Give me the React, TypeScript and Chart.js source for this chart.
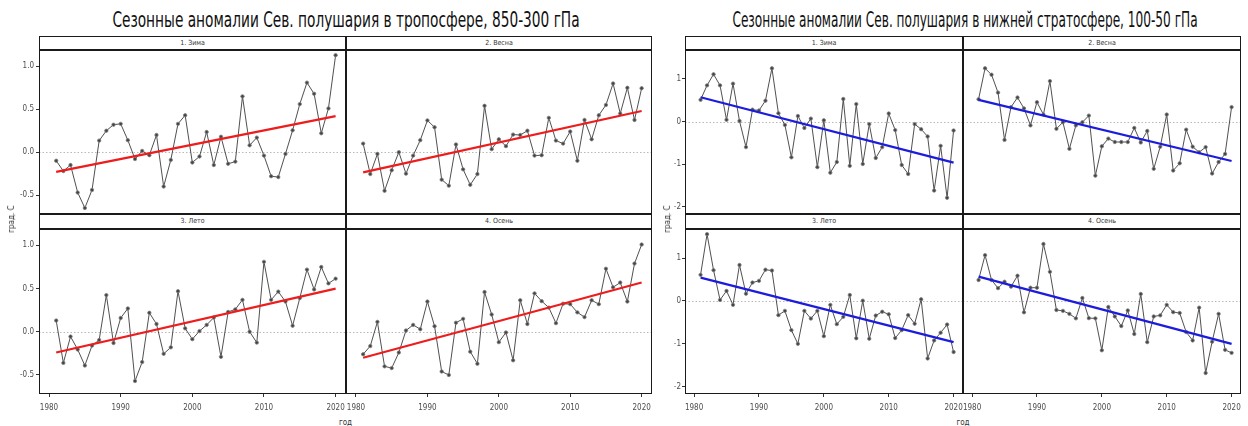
import React, { useEffect, useLayoutEffect, useRef, useState } from "react";
import { Chart, registerables } from "chart.js";
Chart.register(...registerables);

// ---------------- data ----------------
const years = [
  1981, 1982, 1983, 1984, 1985, 1986, 1987, 1988, 1989, 1990,
  1991, 1992, 1993, 1994, 1995, 1996, 1997, 1998, 1999, 2000,
  2001, 2002, 2003, 2004, 2005, 2006, 2007, 2008, 2009, 2010,
  2011, 2012, 2013, 2014, 2015, 2016, 2017, 2018, 2019, 2020,
];

const seasonLabels = ["1. Зима", "2. Весна", "3. Лето", "4. Осень"];
const tropoTitle = "Сезонные аномалии Сев. полушария в тропосфере, 850-300 гПа";
const stratoTitle = "Сезонные аномалии Сев. полушария в нижней стратосфере, 100-50 гПа";
const xAxisTitle = "год";
const yAxisTitle = "град. С";

const xTicks = [1980, 1990, 2000, 2010, 2020];
const tropoYTicks = [-0.5, 0, 0.5, 1.0];
const stratoYTicks = [-2, -1, 0, 1];

const tropoWinter = [-0.10, -0.22, -0.15, -0.47, -0.65, -0.44, 0.135, 0.25, 0.32, 0.33, 0.14, -0.08, 0.015, -0.035, 0.20, -0.40, -0.09, 0.33, 0.43, -0.12, -0.05, 0.235, -0.15, 0.18, -0.135, -0.11, 0.65, 0.08, 0.17, -0.04, -0.28, -0.29, -0.02, 0.255, 0.56, 0.81, 0.68, 0.22, 0.51, 1.13];
const tropoSpring = [0.10, -0.255, -0.02, -0.45, -0.21, 0.0, -0.25, -0.04, 0.14, 0.37, 0.29, -0.32, -0.39, 0.09, -0.20, -0.38, -0.255, 0.54, 0.035, 0.15, 0.07, 0.205, 0.20, 0.25, -0.04, -0.035, 0.40, 0.135, 0.10, 0.24, -0.10, 0.375, 0.15, 0.43, 0.55, 0.80, 0.45, 0.75, 0.375, 0.745];
const tropoSummer = [0.13, -0.36, -0.055, -0.205, -0.39, -0.16, -0.095, 0.425, -0.13, 0.16, 0.27, -0.57, -0.35, 0.22, 0.09, -0.255, -0.18, 0.47, 0.04, -0.085, 0.008, 0.08, 0.165, -0.29, 0.23, 0.26, 0.37, 0.0, -0.125, 0.81, 0.37, 0.465, 0.35, 0.07, 0.39, 0.72, 0.49, 0.75, 0.56, 0.615];
const tropoAutumn = [-0.26, -0.165, 0.115, -0.40, -0.42, -0.24, 0.015, 0.08, 0.03, 0.35, 0.065, -0.46, -0.50, 0.105, 0.15, -0.23, -0.37, 0.46, 0.20, -0.12, -0.008, -0.33, 0.365, 0.09, 0.445, 0.355, 0.28, 0.10, 0.325, 0.32, 0.225, 0.17, 0.365, 0.32, 0.73, 0.515, 0.57, 0.35, 0.79, 1.01];

const stratoWinter = [0.51, 0.85, 1.11, 0.85, 0.04, 0.89, 0.015, -0.60, 0.28, 0.26, 0.49, 1.25, 0.195, -0.08, -0.84, 0.13, -0.15, 0.07, -1.07, 0.03, -1.20, -0.95, 0.53, -1.04, 0.41, -0.995, -0.06, -0.855, -0.60, 0.19, -0.20, -1.02, -1.23, -0.06, -0.18, -0.35, -1.62, -0.57, -1.79, -0.21];
const stratoSpring = [0.525, 1.25, 1.10, 0.68, -0.43, 0.34, 0.565, 0.31, -0.09, 0.455, 0.165, 0.95, -0.17, -0.016, -0.64, -0.09, -0.016, 0.14, -1.27, -0.58, -0.40, -0.48, -0.48, -0.48, -0.15, -0.49, -0.22, -1.11, -0.59, 0.165, -1.15, -0.98, -0.19, -0.59, -0.72, -0.60, -1.22, -0.95, -0.76, 0.34];
const stratoSummer = [0.61, 1.56, 0.72, 0.025, 0.235, -0.09, 0.84, 0.17, 0.43, 0.47, 0.73, 0.71, -0.33, -0.23, -0.68, -1.0, -0.23, -0.41, -0.23, -0.82, -0.09, -0.54, -0.37, 0.14, -0.87, 0.008, -0.88, -0.34, -0.25, -0.31, -0.865, -0.68, -0.33, -0.53, 0.04, -1.34, -0.92, -0.74, -0.55, -1.19];
const stratoAutumn = [0.49, 1.07, 0.49, 0.30, 0.45, 0.335, 0.59, -0.265, 0.31, 0.31, 1.33, 0.68, -0.21, -0.23, -0.30, -0.405, 0.07, -0.40, -0.405, -1.15, -0.14, -0.36, -0.585, -0.22, -0.77, 0.164, -0.96, -0.36, -0.335, -0.09, -0.26, -0.28, -0.725, -0.92, -0.155, -1.68, -0.95, -0.30, -1.14, -1.21];

// linear trend endpoints (value at 1981, value at 2020)
const tropoWinterTrend = [-0.23, 0.42];
const tropoSpringTrend = [-0.235, 0.48];
const tropoSummerTrend = [-0.24, 0.50];
const tropoAutumnTrend = [-0.30, 0.57];
const stratoWinterTrend = [0.57, -0.965];
const stratoSpringTrend = [0.51, -0.925];
const stratoSummerTrend = [0.545, -0.96];
const stratoAutumnTrend = [0.57, -1.0];

// ---------------- layout ----------------
const FONT = "'Liberation Sans Narrow','Arial Narrow','DejaVu Sans Condensed','Liberation Sans',sans-serif";
const X_MIN = 1978.6;
const X_MAX = 2021.45;
const X_AXIS_H = 22;
const ROWS = [
  { stripTop: 36, stripH: 14, top: 50, height: 164 },
  { stripTop: 214, stripH: 15, top: 229, height: 165 },
];

const framePlugin = {
  id: "panelFrame",
  beforeDatasetsDraw(chart: any) {
    const { ctx, chartArea, scales } = chart;
    const y0 = Math.round(scales.y.getPixelForValue(0)) + 0.5;
    ctx.save();
    ctx.strokeStyle = "#b8b8b8";
    ctx.lineWidth = 1;
    ctx.setLineDash([1.5, 2]);
    ctx.beginPath();
    ctx.moveTo(chartArea.left, y0);
    ctx.lineTo(chartArea.right, y0);
    ctx.stroke();
    ctx.restore();
  },
  afterDraw(chart: any) {
    const { ctx, chartArea } = chart;
    ctx.save();
    ctx.strokeStyle = "#1a1a1a";
    ctx.lineWidth = 1;
    ctx.strokeRect(
      Math.round(chartArea.left) + 0.5,
      Math.round(chartArea.top) + 0.5,
      Math.round(chartArea.right - chartArea.left) - 1,
      Math.round(chartArea.bottom - chartArea.top) - 1
    );
    ctx.restore();
  },
};

type PanelProps = {
  values: number[];
  trend: number[];
  trendColor: string;
  yMin: number;
  yMax: number;
  yTicks: number[];
  yDecimals: number;
  showY: boolean;
  showX: boolean;
  left: number;
  top: number;
  width: number;
  height: number;
  yAxisW: number;
  yPad: number;
};

function Panel(p: PanelProps) {
  const ref = useRef<HTMLCanvasElement>(null);
  const cw = p.width + (p.showY ? p.yAxisW : 0);
  const ch = p.height + (p.showX ? X_AXIS_H : 0);
  useEffect(() => {
    const canvas = ref.current!;
    canvas.width = cw;
    canvas.height = ch;
    const tickFont = { family: FONT, size: 8 };
    const chart = new Chart(canvas, {
      type: "line",
      data: {
        datasets: [
          {
            data: [
              { x: years[0], y: p.trend[0] },
              { x: years[years.length - 1], y: p.trend[1] },
            ],
            borderColor: p.trendColor,
            borderWidth: 2.2,
            pointRadius: 0,
            fill: false,
          },
          {
            data: years.map((x, i) => ({ x, y: p.values[i] })),
            borderColor: "#3c3c3c",
            borderWidth: 0.9,
            pointRadius: 1.7,
            pointBackgroundColor: "#444",
            pointBorderColor: "#808080",
            pointBorderWidth: 0.8,
            fill: false,
            tension: 0,
          },
        ],
      },
      options: {
        animation: false,
        responsive: false,
        devicePixelRatio: 1,
        layout: { padding: 0, autoPadding: false },
        plugins: { legend: { display: false }, tooltip: { enabled: false }, title: { display: false } },
        scales: {
          x: {
            type: "linear",
            min: X_MIN,
            max: X_MAX,
            display: p.showX,
            afterBuildTicks: (s: any) => {
              s.ticks = xTicks.map((v) => ({ value: v }));
            },
            afterFit: (s: any) => {
              s.height = p.showX ? X_AXIS_H : 0;
              s.paddingLeft = 0;
              s.paddingRight = 0;
              s.paddingTop = 0;
              s.paddingBottom = 0;
            },
            grid: { display: true, drawOnChartArea: false, drawTicks: true, tickLength: 3, tickColor: "#333", tickWidth: 1 },
            border: { display: false },
            ticks: {
              padding: 6,
              color: "#4d4d4d",
              font: tickFont,
              maxRotation: 0,
              autoSkip: false,
              callback: (v: any) => String(v),
            },
          },
          y: {
            type: "linear",
            min: p.yMin,
            max: p.yMax,
            display: p.showY,
            afterBuildTicks: (s: any) => {
              s.ticks = p.yTicks.map((v) => ({ value: v }));
            },
            afterFit: (s: any) => {
              s.width = p.showY ? p.yAxisW : 0;
              s.paddingTop = 0;
              s.paddingBottom = 0;
              s.paddingLeft = 0;
              s.paddingRight = 0;
            },
            grid: { display: true, drawOnChartArea: false, drawTicks: true, tickLength: 3, tickColor: "#333", tickWidth: 1 },
            border: { display: false },
            ticks: {
              padding: p.yPad,
              color: "#4d4d4d",
              font: tickFont,
              autoSkip: false,
              callback: (v: any) => Number(v).toFixed(p.yDecimals),
            },
          },
        },
      } as any,
      plugins: [framePlugin],
    });
    return () => chart.destroy();
  }, []);
  return (
    <canvas
      ref={ref}
      width={cw}
      height={ch}
      style={{
        position: "absolute",
        left: p.showY ? p.left - p.yAxisW : p.left,
        top: p.top,
        width: cw,
        height: ch,
      }}
    />
  );
}

function FitText(props: { text: string; cx: number; top: number; width: number; size: number }) {
  const ref = useRef<HTMLSpanElement>(null);
  const [scale, setScale] = useState(1);
  useLayoutEffect(() => {
    const w = ref.current ? ref.current.offsetWidth : 0;
    if (w > 0) setScale(props.width / w);
  }, []);
  return (
    <div
      style={{
        position: "absolute",
        left: props.cx,
        top: props.top,
        transform: `translateX(-50%) scaleX(${scale})`,
        whiteSpace: "nowrap",
        fontFamily: FONT,
        fontSize: props.size,
        lineHeight: `${props.size}px`,
        color: "#111",
      }}
    >
      <span ref={ref}>{props.text}</span>
    </div>
  );
}

type FigureProps = {
  title: string;
  titleCx: number;
  titleW: number;
  cols: { left: number; width: number }[];
  yAxisW: number;
  yPad: number;
  yMin: number;
  yMax: number;
  yTicks: number[];
  yDecimals: number;
  series: number[][];
  trends: number[][];
  trendColor: string;
  yTitleX: number;
};

function Figure(f: FigureProps) {
  const items: React.ReactNode[] = [];
  for (let r = 0; r < 2; r++) {
    for (let c = 0; c < 2; c++) {
      const idx = r * 2 + c;
      const row = ROWS[r];
      const col = f.cols[c];
      items.push(
        <div
          key={"s" + idx}
          style={{
            position: "absolute",
            left: col.left,
            top: row.stripTop,
            width: col.width,
            height: row.stripH,
            boxSizing: "border-box",
            border: "1px solid #1a1a1a",
            background: "#fff",
            fontFamily: FONT,
            fontSize: 7,
            lineHeight: `${row.stripH - 2}px`,
            textAlign: "center",
            color: "#333",
          }}
        >
          {seasonLabels[idx]}
        </div>
      );
      items.push(
        <Panel
          key={"p" + idx}
          values={f.series[idx]}
          trend={f.trends[idx]}
          trendColor={f.trendColor}
          yMin={f.yMin}
          yMax={f.yMax}
          yTicks={f.yTicks}
          yDecimals={f.yDecimals}
          showY={c === 0}
          showX={r === 1}
          left={col.left}
          top={row.top}
          width={col.width}
          height={row.height}
          yAxisW={f.yAxisW}
          yPad={f.yPad}
        />
      );
    }
  }
  const figLeft = f.cols[0].left;
  const figRight = f.cols[1].left + f.cols[1].width;
  const cx = (figLeft + figRight) / 2;
  return (
    <>
      <FitText text={f.title} cx={f.titleCx} top={10} width={f.titleW} size={21} />
      {items}
      <div
        style={{
          position: "absolute",
          left: cx,
          top: 419,
          transform: "translateX(-50%)",
          fontFamily: FONT,
          fontSize: 8,
          lineHeight: "8px",
          color: "#333",
          whiteSpace: "nowrap",
        }}
      >
        {xAxisTitle}
      </div>
      <div
        style={{
          position: "absolute",
          left: f.yTitleX,
          top: 219,
          transform: "translate(-50%, -50%) rotate(-90deg)",
          fontFamily: FONT,
          fontSize: 8,
          lineHeight: "8px",
          color: "#333",
          whiteSpace: "nowrap",
        }}
      >
        {yAxisTitle}
      </div>
    </>
  );
}

export default function App() {
  return (
    <div
      style={{
        position: "absolute",
        left: 0,
        top: 0,
        width: 1248,
        height: 426,
        overflow: "hidden",
        background: "#fff",
      }}
    >
      <Figure
        title={tropoTitle}
        titleCx={346}
        titleW={467}
        cols={[
          { left: 39, width: 307 },
          { left: 346, width: 306 },
        ]}
        yAxisW={39}
        yPad={2}
        yMin={-0.72}
        yMax={1.19}
        yTicks={tropoYTicks}
        yDecimals={1}
        series={[tropoWinter, tropoSpring, tropoSummer, tropoAutumn]}
        trends={[tropoWinterTrend, tropoSpringTrend, tropoSummerTrend, tropoAutumnTrend]}
        trendColor="#ee1c1c"
        yTitleX={12}
      />
      <Figure
        title={stratoTitle}
        titleCx={965}
        titleW={465}
        cols={[
          { left: 685, width: 278 },
          { left: 963, width: 278 },
        ]}
        yAxisW={30}
        yPad={1}
        yMin={-2.17}
        yMax={1.68}
        yTicks={stratoYTicks}
        yDecimals={0}
        series={[stratoWinter, stratoSpring, stratoSummer, stratoAutumn]}
        trends={[stratoWinterTrend, stratoSpringTrend, stratoSummerTrend, stratoAutumnTrend]}
        trendColor="#1c1cdc"
        yTitleX={668}
      />
    </div>
  );
}
